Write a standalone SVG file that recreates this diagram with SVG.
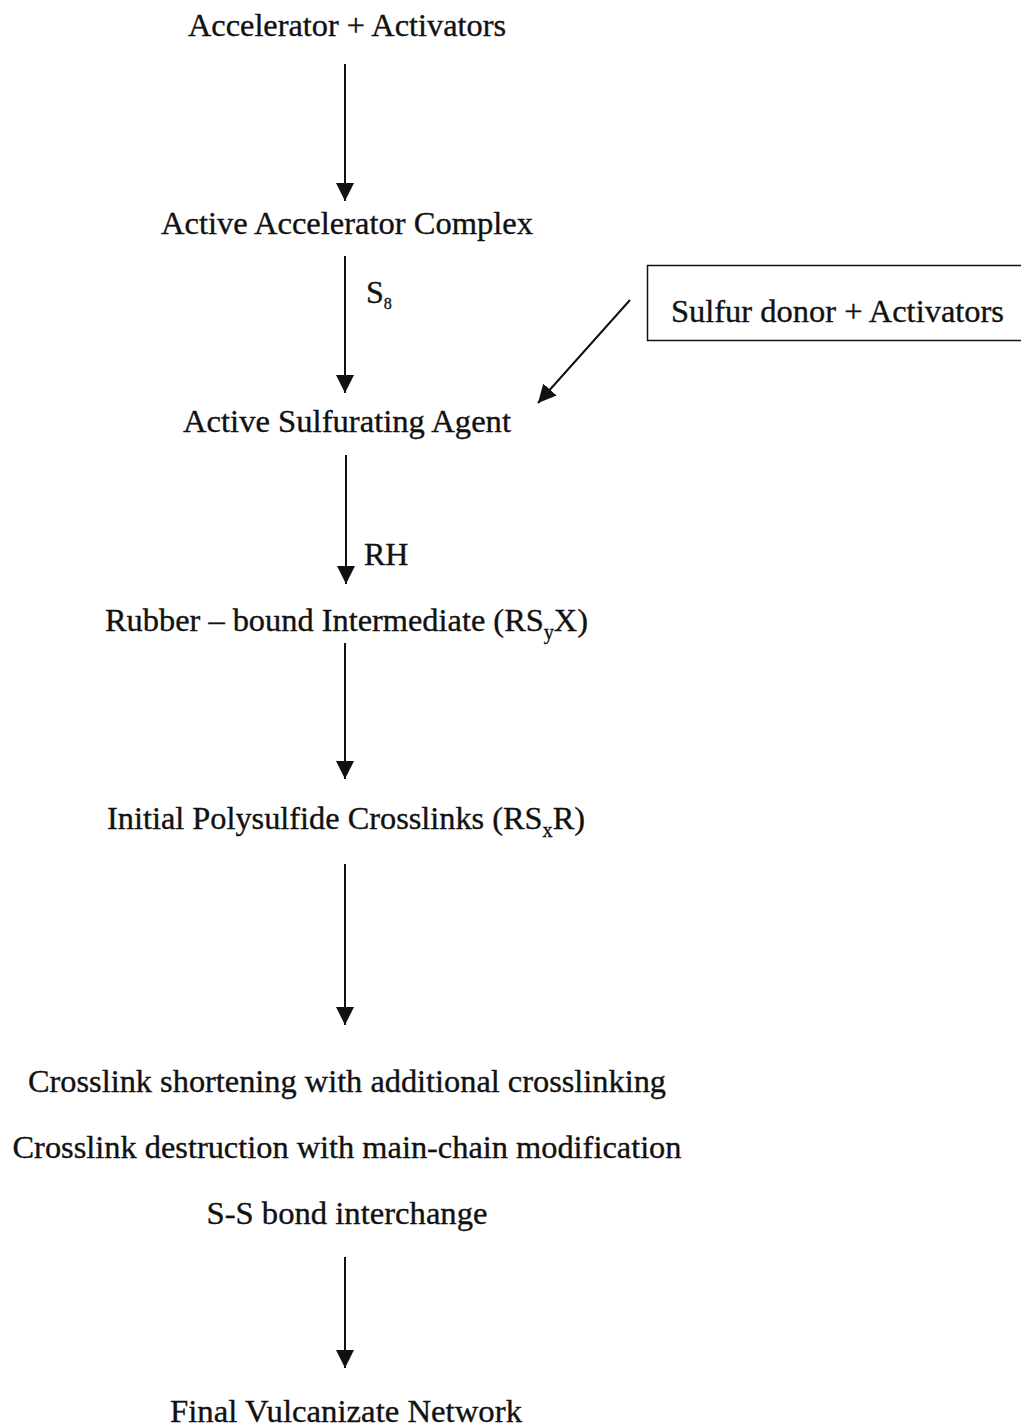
<svg xmlns="http://www.w3.org/2000/svg" width="1021" height="1427" viewBox="0 0 1021 1427">
<style>
text{font-family:"Liberation Serif","Times New Roman",serif;font-size:32px;fill:#111;stroke:#111;stroke-width:0.35px;}
.c{text-anchor:middle;}
.ln{stroke:#111;stroke-width:2;fill:none;}
</style>
<defs>
<marker id="ah2" viewBox="0 0 10 10" refX="10" refY="5" markerWidth="18" markerHeight="18" markerUnits="userSpaceOnUse" orient="auto" preserveAspectRatio="none">
<path d="M0,0 L10,5 L0,10 z" fill="#111"/>
</marker>
</defs>
<rect width="1021" height="1427" fill="#fff"/>
<g id="n1"><text class="c" x="347" y="36" textLength="318" lengthAdjust="spacingAndGlyphs">Accelerator + Activators</text></g>
<g id="n2"><text class="c" x="347" y="234" textLength="372" lengthAdjust="spacingAndGlyphs">Active Accelerator Complex</text></g>
<g id="n3"><text class="c" x="347" y="432" textLength="328" lengthAdjust="spacingAndGlyphs">Active Sulfurating Agent</text></g>
<g id="n4"><text x="105" y="631" textLength="483" lengthAdjust="spacingAndGlyphs">Rubber – bound Intermediate (RS<tspan font-size="20" dy="8">y</tspan><tspan dy="-8">X)</tspan></text></g>
<g id="n5"><text x="107" y="829" textLength="478" lengthAdjust="spacingAndGlyphs">Initial Polysulfide Crosslinks (RS<tspan font-size="20" dy="8">x</tspan><tspan dy="-8">R)</tspan></text></g>
<g id="n6">
<text class="c" x="347" y="1092" textLength="638" lengthAdjust="spacingAndGlyphs">Crosslink shortening with additional crosslinking</text>
<text class="c" x="347" y="1158" textLength="669" lengthAdjust="spacingAndGlyphs">Crosslink destruction with main-chain modification</text>
<text class="c" x="347" y="1224" textLength="281" lengthAdjust="spacingAndGlyphs">S-S bond interchange</text>
</g>
<g id="n7"><text class="c" x="346" y="1422" textLength="352" lengthAdjust="spacingAndGlyphs">Final Vulcanizate Network</text></g>
<g id="n8">
<rect x="647.5" y="265.5" width="380" height="75" fill="none" stroke="#111" stroke-width="1.5"/>
<text x="671" y="322" textLength="333" lengthAdjust="spacingAndGlyphs">Sulfur donor + Activators</text>
</g>
<g id="connectors">
<line class="ln" x1="345" y1="64" x2="345" y2="201" marker-end="url(#ah2)"/>
<line class="ln" x1="345" y1="256" x2="345" y2="393" marker-end="url(#ah2)"/>
<line class="ln" x1="346" y1="455" x2="346" y2="584" marker-end="url(#ah2)"/>
<line class="ln" x1="345" y1="643" x2="345" y2="779" marker-end="url(#ah2)"/>
<line class="ln" x1="345" y1="864" x2="345" y2="1025" marker-end="url(#ah2)"/>
<line class="ln" x1="345" y1="1257" x2="345" y2="1368" marker-end="url(#ah2)"/>
<line class="ln" x1="630" y1="300" x2="538" y2="403" marker-end="url(#ah2)"/>
<text x="366" y="303" font-size="28">S<tspan font-size="16" dy="6">8</tspan></text>
<text x="364" y="565" font-size="30">RH</text>
</g>
</svg>
